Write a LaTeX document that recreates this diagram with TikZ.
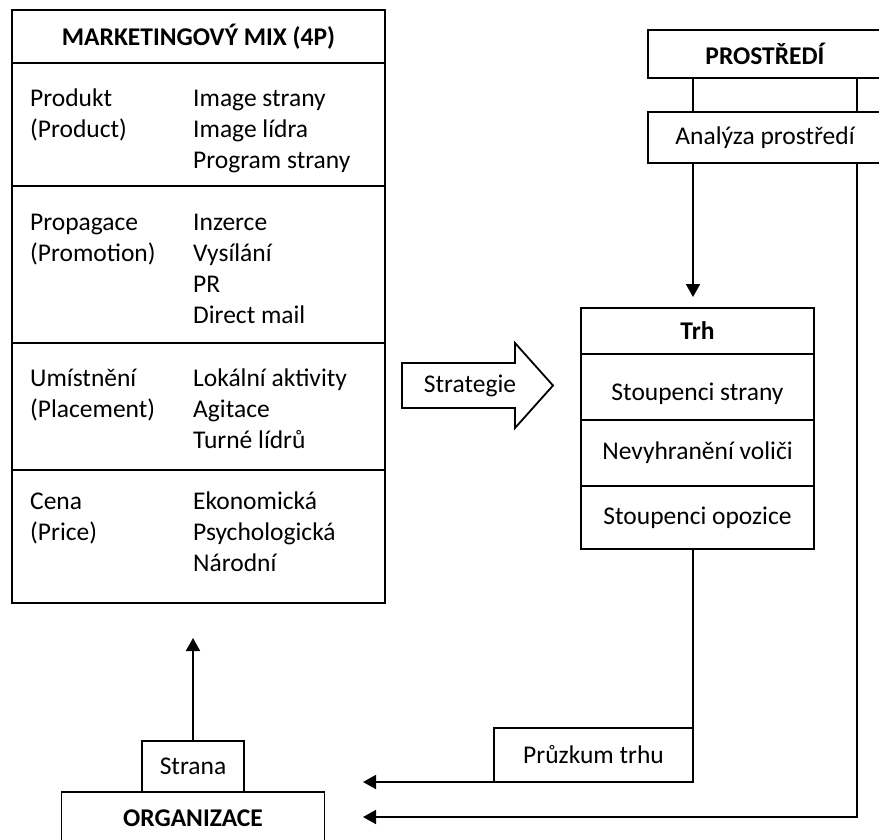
\documentclass[tikz,border=0pt]{standalone}
\usepackage{fontspec}
\setmainfont{Carlito}
\usetikzlibrary{arrows.meta,positioning}

\begin{document}
\begin{tikzpicture}[x=1pt,y=-1pt,
  every node/.style={font=\fontsize{25.5}{31}\selectfont},
  hd/.style={font=\fontsize{25.5}{31}\selectfont\bfseries},
  cell/.style={draw,line width=1.8pt,inner sep=0pt,outer sep=0pt,align=center},
  txt/.style={inner sep=0pt,align=left,anchor=base west},
  arr/.style={-{Triangle[length=13pt,width=14pt]},line width=1.8pt}]
  \useasboundingbox (0,0) rectangle (879,839);
  \clip (0,0) rectangle (879,839);
  % marketingovy mix
  \node[cell,hd,minimum width=373pt,minimum height=53pt] (mix) at (198.5,36.5) {MARKETINGOVÝ MIX (4P)};
  \node[cell,minimum width=373pt,minimum height=123pt,anchor=north] (produkt) at (mix.south) {};
  \node[cell,minimum width=373pt,minimum height=157pt,anchor=north] (propagace) at (produkt.south) {};
  \node[cell,minimum width=373pt,minimum height=127pt,anchor=north] (umisteni) at (propagace.south) {};
  \node[cell,minimum width=373pt,minimum height=133pt,anchor=north] (cena) at (umisteni.south) {};
  % base = last line
  \node[txt] (produkt1) at (30,137) {Produkt\\(Product)};
  \node[txt] (produkt2) at (193,168) {Image strany\\Image lídra\\Program strany};
  \node[txt] (propagace1) at (30,261) {Propagace\\(Promotion)};
  \node[txt] (propagace2) at (193,323) {Inzerce\\Vysílání\\PR\\Direct mail};
  \node[txt] (umisteni1) at (30,417) {Umístnění\\(Placement)};
  \node[txt] (umisteni2) at (193,448) {Lokální aktivity\\Agitace\\Turné lídrů};
  \node[txt] (cena1) at (30,540) {Cena\\(Price)};
  \node[txt] (cena2) at (193,571) {Ekonomická\\Psychologická\\Národní};
  % strategie
  \draw[line width=1.8pt] (402,363) -- (515,363) -- (515,343) -- (553,385.5)
    -- (515,428) -- (515,408) -- (402,408) -- cycle;
  \node (strategie) at (470,385.5) {Strategie};
  % prostredi
  \node[cell,hd,minimum width=234pt,minimum height=48pt] (prostredi) at (765,54) {PROSTŘEDÍ};
  \node[cell,minimum width=234pt,minimum height=51pt] (analyza) at (765,137.5) {Analýza prostředí};
  \draw[line width=1.8pt] ([xshift=45pt]prostredi.south west) -- ([xshift=45pt]analyza.north west);
  \draw[line width=1.8pt] ([xshift=209pt]prostredi.south west) -- ([xshift=209pt]analyza.north west);
  % trh
  \node[cell,hd,minimum width=233pt,minimum height=46pt] (trh) at (697.5,331) {Trh};
  \node[cell,minimum width=233pt,minimum height=66pt,anchor=north,text height=32pt] (stoupenci) at (trh.south) {Stoupenci strany};
  \node[cell,minimum width=233pt,minimum height=66pt,anchor=north] (nevyhraneni) at (stoupenci.south) {Nevyhranění voliči};
  \node[cell,minimum width=233pt,minimum height=63pt,anchor=north] (opozice) at (nevyhraneni.south) {Stoupenci opozice};
  \draw[arr,shorten >=11pt] ([xshift=45pt]analyza.south west) -- ([xshift=45pt]analyza.south west |- trh.north);
  % pruzkum
  \node[cell,minimum width=199pt,minimum height=54pt] (pruzkum) at (593.5,755) {Průzkum trhu};
  \draw[line width=1.8pt] (opozice.south -| pruzkum.east) -- (pruzkum.north east);
  % organizace
  \node[cell,minimum width=102pt,minimum height=51pt] (strana) at (193,766.5) {Strana};
  \node[cell,hd,minimum width=263pt,minimum height=52pt,anchor=north] (organizace) at (strana.south) {ORGANIZACE};
  \coordinate (mixin) at (193,638);
  \coordinate (orgin1) at ([xshift=-131pt]pruzkum.south west);
  \coordinate (orgin2) at (363,817);
  \draw[arr] (strana.north) -- (mixin);
  \draw[arr] (pruzkum.south west) -- (orgin1);
  \draw[arr] ([xshift=209pt]analyza.south west) |- (orgin2);
\end{tikzpicture}
\end{document}
